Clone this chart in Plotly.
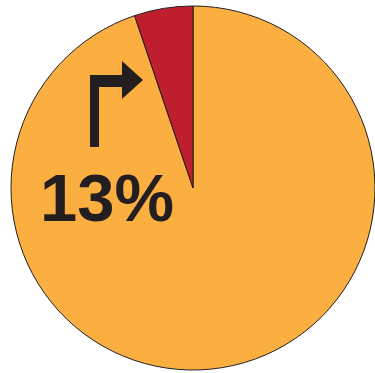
import plotly.graph_objects as go

labels = ["Rest", "Share"]
values = [94.8, 5.2]
colors = ["#FAAF40", "#BE1E2D"]
label_text = "13%"

W, H = 375, 373
L = 11

fig = go.Figure(go.Pie(
    labels=labels, values=values, sort=False, direction="counterclockwise", rotation=0,
    marker=dict(colors=colors, line=dict(color="#231F20", width=1)),
    textinfo="none", hoverinfo="label+percent", showlegend=False,
    domain=dict(x=[0, 1], y=[2/H, 368/H]),
))

def px(x, y):
    return (x - L) / (W - L), 1 - y / H

# bent arrow
pts = [(90, 147), (99, 147), (99, 87), (122, 87), (122, 99), (143, 80), (122, 61), (122, 75), (90, 75)]
path = "M " + " L ".join(f"{px(x,y)[0]:.4f},{px(x,y)[1]:.4f}" for x, y in pts) + " Z"
fig.add_shape(type="path", path=path, xref="paper", yref="paper",
              fillcolor="#231F20", line=dict(width=0))

tx, ty = px(107, 197)
fig.add_annotation(text=f"<b>{label_text}</b>", x=tx, y=ty, xref="paper", yref="paper",
                   xanchor="center", yanchor="middle", showarrow=False,
                   font=dict(family="Liberation Sans", size=67, color="#231F20"))

fig.update_layout(width=W, height=H, margin=dict(l=L, r=0, t=0, b=0),
                  paper_bgcolor="white", plot_bgcolor="white")
fig.write_html("out.html", config={"displayModeBar": False},
               post_script="document.body.style.margin='0';document.body.style.overflow='hidden';")
